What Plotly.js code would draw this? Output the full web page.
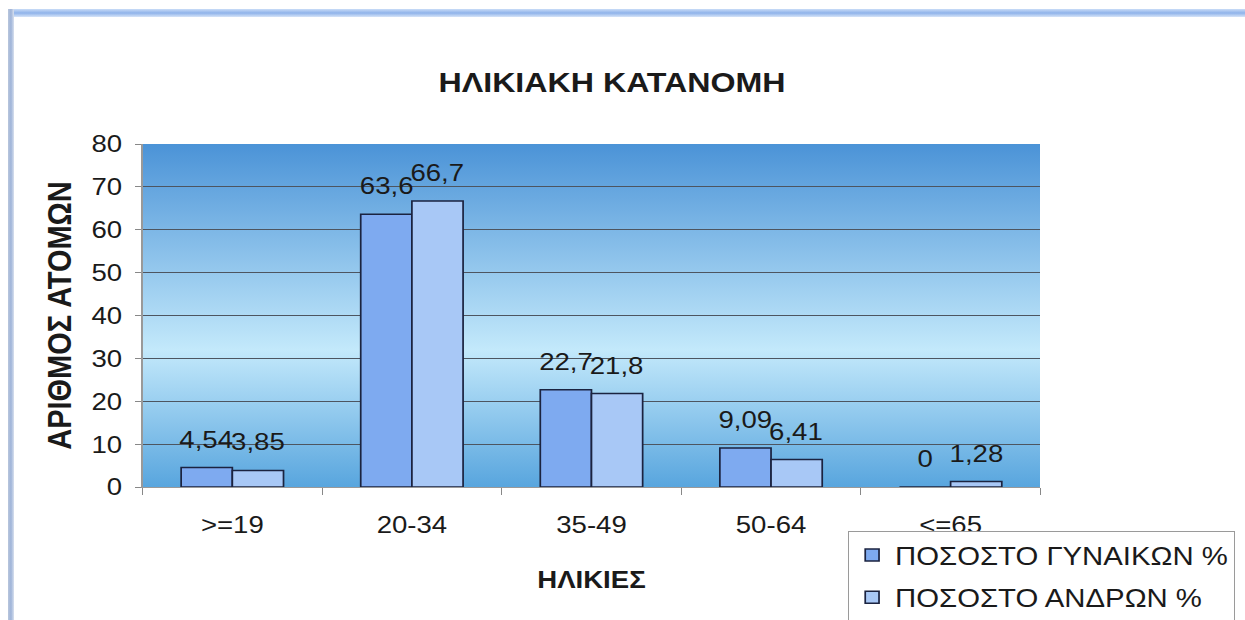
<!DOCTYPE html>
<html>
<head>
<meta charset="utf-8">
<script src="https://cdn.plot.ly/plotly-3.0.1.min.js"></script>
<style>
  body { margin:0; background:#ffffff; }
  #wrap { position:relative; width:1245px; height:620px; overflow:hidden; }
  /* the source picture is stretched sideways, so the chart is drawn narrower and scaled */
  #chart { position:absolute; left:0; top:0; width:1083px; height:620px;
           transform:scaleX(1.1496); transform-origin:0 0; }
  #frameTop { position:absolute; left:8px; top:9px; width:1237px; height:8px;
              background:linear-gradient(to bottom,#c9dcf7,#8fb3ea,#d6e4f8); }
  #frameLeft { position:absolute; left:8px; top:9px; width:6px; height:611px;
               background:linear-gradient(to right,#b9c6dc,#9fb4d9,#d8e0ee); }
</style>
</head>
<body>
<div id="wrap">
  <div id="frameTop"></div>
  <div id="frameLeft"></div>
  <div id="chart"></div>
</div>
<script>

/* ==========================================
   DATA
========================================== */

const ageGroups = [">=19", "20-34", "35-49", "50-64", "<=65"];

const womenPct = [4.54, 63.6, 22.7, 9.09, 0];

const menPct = [3.85, 66.7, 21.8, 6.41, 1.28];

const yTicks = [0, 10, 20, 30, 40, 50, 60, 70, 80];


/* ==========================================
   SETTINGS
========================================== */

const W = 1083;
const H = 620;
const M = {l:124, r:178, t:144, b:133};
const BARGAP = 0.43;

const FONT = "Liberation Sans, Arial, sans-serif";


/* ==========================================
   HELPERS
========================================== */

function commaLabel(v){

    return String(v).replace(".", ",");

}

const bgSvg =
    '<svg xmlns="http://www.w3.org/2000/svg" width="100" height="100" preserveAspectRatio="none">' +
    '<defs><linearGradient id="g" x1="0" y1="0" x2="0" y2="1">' +
    '<stop offset="0" stop-color="#4b93d7"/>' +
    '<stop offset="0.6" stop-color="#c3e9fb"/>' +
    '<stop offset="1" stop-color="#58a5de"/>' +
    '</linearGradient></defs>' +
    '<rect width="100" height="100" fill="url(#g)"/></svg>';


/* ==========================================
   VALUE LABELS (annotations above each bar)
========================================== */

const plotW = W - M.l - M.r;
const barW = plotW / ageGroups.length * (1 - BARGAP) / 2;

let labels = [];

ageGroups.forEach((g, i)=>{

    labels.push({
        x: g, y: womenPct[i], text: commaLabel(womenPct[i]),
        xshift: -barW / 2, yshift: 13
    });

    labels.push({
        x: g, y: menPct[i], text: commaLabel(menPct[i]),
        xshift: barW / 2, yshift: 13
    });

});

labels = labels.map(a=>Object.assign(a, {
    xref: "x", yref: "y",
    yanchor: "bottom",
    showarrow: false,
    font: {family: FONT, size: 24, color: "#1a1a1a"}
}));


/* ==========================================
   DRAW
========================================== */

const women = {
    x: ageGroups,
    y: womenPct,
    name: "ΠΟΣΟΣΤΟ ΓΥΝΑΙΚΩΝ %",
    type: "bar",
    legendgroup: "w",
    marker: {color:"#7eaaf0", line:{color:"#1b2340", width:1.5}},
    hoverinfo: "x+y"
};

const men = {
    x: ageGroups,
    y: menPct,
    name: "ΠΟΣΟΣΤΟ ΑΝΔΡΩΝ %",
    type: "bar",
    legendgroup: "m",
    marker: {color:"#a8c8f6", line:{color:"#1b2340", width:1.5}},
    hoverinfo: "x+y"
};

const layout = {

    width: W,
    height: H,
    margin: Object.assign({autoexpand:false}, M),
    paper_bgcolor: "rgba(0,0,0,0)",
    plot_bgcolor: "rgba(0,0,0,0)",
    font: {family: FONT, color:"#1a1a1a"},
    barmode: "group",
    bargap: BARGAP,
    bargroupgap: 0,
    showlegend: true,

    title: {
        text: "<b>ΗΛΙΚΙΑΚΗ ΚΑΤΑΝΟΜΗ</b>",
        font: {size:28, color:"#1a1a1a"},
        xref: "container", yref: "container",
        x: 0.4916, y: 0.868, xanchor: "center", yanchor: "middle"
    },

    xaxis: {
        type: "category",
        tickfont: {size:24},
        ticks: "outside",
        tickson: "boundaries",
        ticklen: 7,
        tickcolor: "#888888",
        ticklabelstandoff: 16,
        showline: true,
        linecolor: "#999999",
        linewidth: 1,
        showgrid: false,
        title: {text:"<b>ΗΛΙΚΙΕΣ</b>", font:{size:24}, standoff: 34}
    },

    yaxis: {
        range: [0, 80],
        tickvals: yTicks,
        tickfont: {size:24},
        ticks: "outside",
        ticklen: 6,
        tickcolor: "#888888",
        ticklabelstandoff: 6,
        showline: true,
        linecolor: "#999999",
        showgrid: true,
        gridcolor: "#4d5560",
        gridwidth: 1,
        zeroline: false,
        title: {text:"<b>ΑΡΙΘΜΟΣ ΑΤΟΜΩΝ</b>", font:{size:29}, standoff: 8}
    },

    legend: {
        x: 0.7857, y: -0.128, xanchor: "left", yanchor: "top",
        bgcolor: "#ffffff",
        bordercolor: "#9a9a9a",
        borderwidth: 1,
        font: {size:25.5, color:"#1a1a1a"},
        traceorder: "grouped",
        tracegroupgap: 6,
        itemwidth: 30
    },

    annotations: labels,

    images: [{
        source: "data:image/svg+xml;charset=utf-8," + encodeURIComponent(bgSvg),
        xref: "paper", yref: "paper",
        x: 0, y: 1, sizex: 1, sizey: 1,
        xanchor: "left", yanchor: "top",
        sizing: "stretch",
        layer: "below"
    }]
};

Plotly.newPlot("chart", [women, men], layout, {displayModeBar:false, responsive:false});

</script>
</body>
</html>
